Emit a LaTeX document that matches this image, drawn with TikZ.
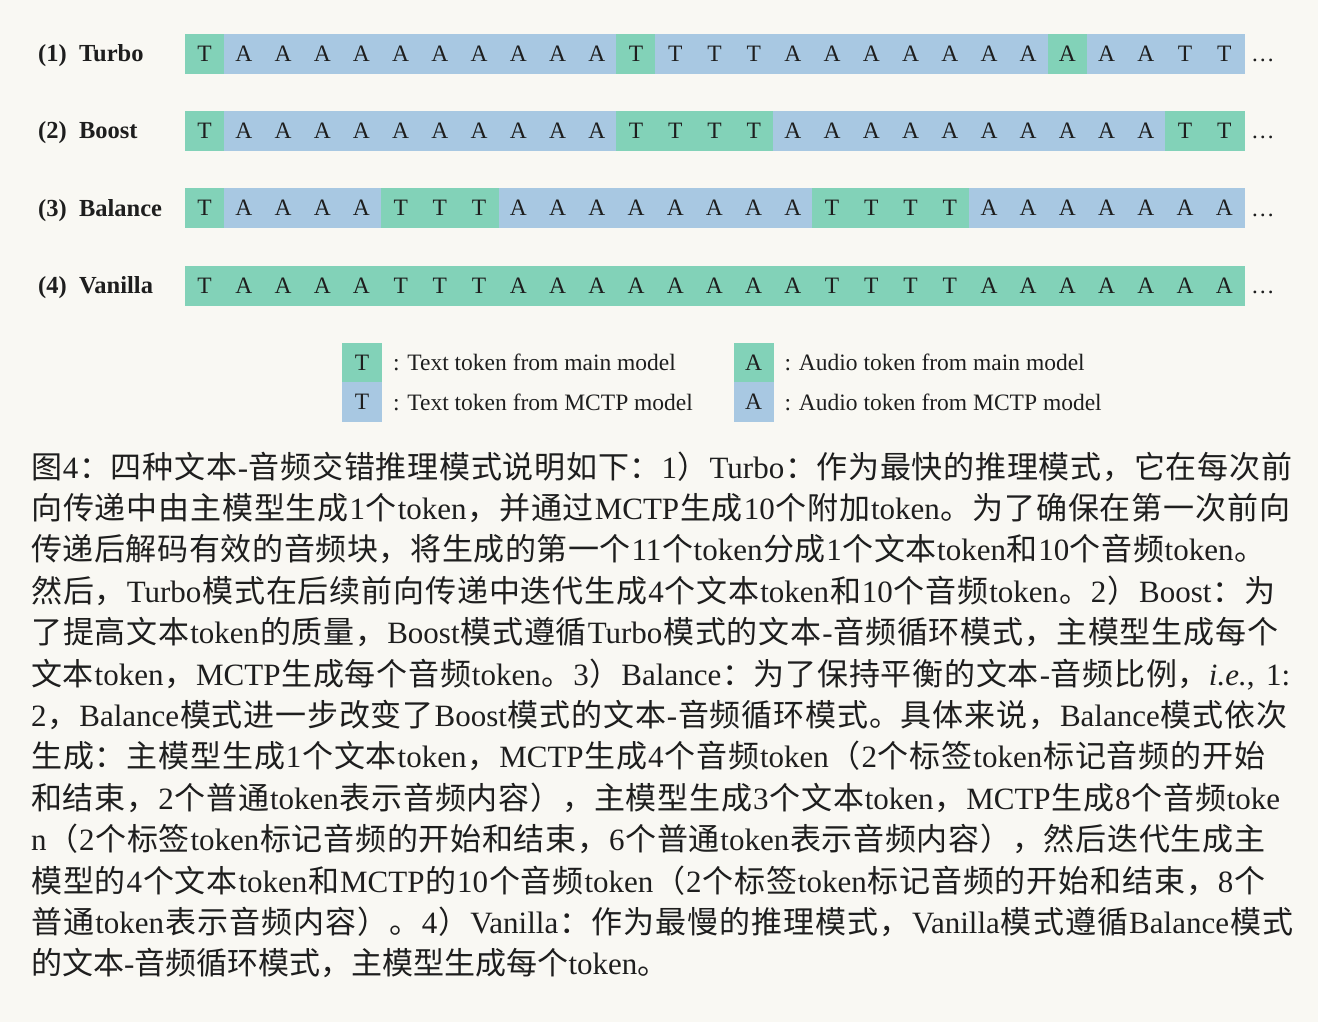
\documentclass[tikz,border=0pt]{standalone}
\usepackage{fontspec}
\setmainfont{Liberation Serif}
\newfontfamily\cjkfont{Noto Sans CJK SC}
\newfontfamily\latinfont{Liberation Serif}
\usetikzlibrary{positioning}

\definecolor{paper}{HTML}{F9F8F3}
\definecolor{tokM}{HTML}{82D2B8}
\definecolor{tokC}{HTML}{A8C8E2}
\definecolor{ink}{HTML}{1E1E1E}

% CJK runs go to Noto Sans CJK, everything else stays in Liberation Serif
\XeTeXinterchartokenstate=1
\newXeTeXintercharclass\cjkclass
\newcommand{\cjkrange}[2]{%
  \count255=#1\relax
  \loop
    \XeTeXcharclass\count255=\cjkclass
  \ifnum\count255<#2\relax
    \advance\count255 by 1
  \repeat}
\cjkrange{"3000}{"303F}
\cjkrange{"4E00}{"9FFF}
\cjkrange{"FF00}{"FFEF}
\XeTeXinterchartoks 0 \cjkclass = {\hskip 0pt plus 1pt\cjkfont}
\XeTeXinterchartoks 4095 \cjkclass = {\cjkfont}
\XeTeXinterchartoks \cjkclass 0 = {\latinfont\hskip 0pt plus 1pt}
\XeTeXinterchartoks \cjkclass 4095 = {\latinfont}
\XeTeXinterchartoks \cjkclass \cjkclass = {\hskip 0pt plus 1pt}

\begin{document}
\begin{tikzpicture}[x=1pt, y=-1pt,
  font=\fontsize{23.5}{28}\selectfont, color=ink,
  cell/.style={minimum width=39.22pt, minimum height=39pt, inner sep=0pt, line width=0.4pt},
  modelab/.style={anchor=base west, inner sep=0pt, font=\fontsize{24.5}{28}\selectfont\bfseries},
  more/.style={anchor=base west, inner sep=0pt},
  legtext/.style={inner sep=0pt},
  captext/.style={anchor=base west, inner sep=0pt, font=\fontsize{31}{41.4}\selectfont}
]
\useasboundingbox (0,0) rectangle (1318,1022);
\fill[paper] (0,0) rectangle (1318,1022);

% (1) Turbo
\node[modelab] (lab1) at (38,61.5) {(1)~~Turbo};
\foreach \tok/\src [count=\k from 0] in {T/M,A/C,A/C,A/C,A/C,A/C,A/C,A/C,A/C,A/C,A/C,T/M,T/C,T/C,T/C,A/C,A/C,A/C,A/C,A/C,A/C,A/C,A/M,A/C,A/C,T/C,T/C}
  \node[cell, fill=tok\src, draw=tok\src] (turbo\k) at (204.6+39.22*\k,53.5) {\tok};
\node[more] (dots1) at (1251,61.5) {\dots};

% (2) Boost
\node[modelab] (lab2) at (38,138.8) {(2)~~Boost};
\foreach \tok/\src [count=\k from 0] in {T/M,A/C,A/C,A/C,A/C,A/C,A/C,A/C,A/C,A/C,A/C,T/M,T/M,T/M,T/M,A/C,A/C,A/C,A/C,A/C,A/C,A/C,A/C,A/C,A/C,T/M,T/M}
  \node[cell, fill=tok\src, draw=tok\src] (boost\k) at (204.6+39.22*\k,130.8) {\tok};
\node[more] (dots2) at (1251,138.8) {\dots};

% (3) Balance
\node[modelab] (lab3) at (38,216.1) {(3)~~Balance};
\foreach \tok/\src [count=\k from 0] in {T/M,A/C,A/C,A/C,A/C,T/M,T/M,T/M,A/C,A/C,A/C,A/C,A/C,A/C,A/C,A/C,T/M,T/M,T/M,T/M,A/C,A/C,A/C,A/C,A/C,A/C,A/C}
  \node[cell, fill=tok\src, draw=tok\src] (balance\k) at (204.6+39.22*\k,208.1) {\tok};
\node[more] (dots3) at (1251,216.1) {\dots};

% (4) Vanilla
\node[modelab] (lab4) at (38,293.4) {(4)~~Vanilla};
\foreach \tok [count=\k from 0] in {T,A,A,A,A,T,T,T,A,A,A,A,A,A,A,A,T,T,T,T,A,A,A,A,A,A,A}
  \node[cell, fill=tokM, draw=tokM] (vanilla\k) at (204.6+39.22*\k,285.4) {\tok};
\node[more] (dots4) at (1251,293.4) {\dots};

% legend
\node[cell, fill=tokM, draw=tokM] (legTm) at (362,362.5) {T};
\node[cell, fill=tokC, draw=tokC, below=0pt of legTm] (legTc) {T};
\node[legtext, right=11pt of legTm] (legTmtext) {: Text token from main model};
\node[legtext, right=11pt of legTc] (legTctext) {: Text token from MCTP model};
\node[cell, fill=tokM, draw=tokM] (legAm) at (753.5,362.5) {A};
\node[cell, fill=tokC, draw=tokC, below=0pt of legAm] (legAc) {A};
\node[legtext, right=11pt of legAm] (legAmtext) {: Audio token from main model};
\node[legtext, right=11pt of legAc] (legActext) {: Audio token from MCTP model};

% caption
\foreach \w/\txt [count=\i] in {
  1261/{图4：四种文本-音频交错推理模式说明如下：1）Turbo：作为最快的推理模式，它在每次前},
  1259/{向传递中由主模型生成1个token，并通过MCTP生成10个附加token。为了确保在第一次前向},
  1234/{传递后解码有效的音频块，将生成的第一个11个token分成1个文本token和10个音频token。},
  1244/{然后，Turbo模式在后续前向传递中迭代生成4个文本token和10个音频token。2）Boost：为},
  1247/{了提高文本token的质量，Boost模式遵循Turbo模式的文本-音频循环模式，主模型生成每个},
  1259/{文本token，MCTP生成每个音频token。3）Balance：为了保持平衡的文本-音频比例，\textit{i.e.}, 1:},
  1256/{2，Balance模式进一步改变了Boost模式的文本-音频循环模式。具体来说，Balance模式依次},
  1234/{生成：主模型生成1个文本token，MCTP生成4个音频token（2个标签token标记音频的开始},
  1249/{和结束，2个普通token表示音频内容），主模型生成3个文本token，MCTP生成8个音频toke},
  1234/{n（2个标签token标记音频的开始和结束，6个普通token表示音频内容），然后迭代生成主},
  1234/{模型的4个文本token和MCTP的10个音频token（2个标签token标记音频的开始和结束，8个},
  1262/{普通token表示音频内容）。4）Vanilla：作为最慢的推理模式，Vanilla模式遵循Balance模式}}
  \node[captext] (cap\i) at (31,478+41.4*\i-41.4) {\makebox[\w pt][s]{\txt}};
\node[captext] (cap13) at (31,974.8) {的文本-音频循环模式，主模型生成每个token。};
\end{tikzpicture}
\end{document}
